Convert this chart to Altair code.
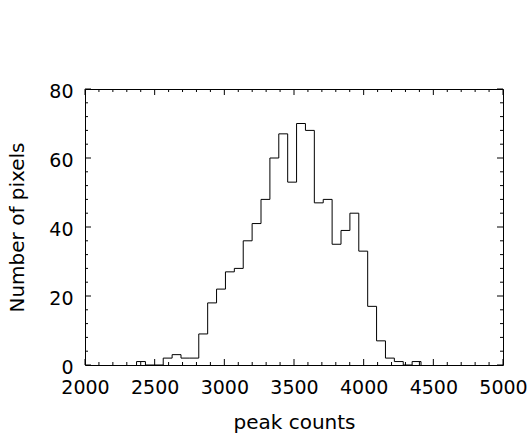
import altair as alt
import pandas as pd

# histogram
bin_start = 2370.0
bin_width = 63.8
counts = [1, 0, 0, 2, 3, 2, 2, 9, 18, 22, 27, 28, 36, 41, 48, 60, 67, 53, 70, 68,
          47, 48, 35, 39, 44, 33, 17, 7, 2, 1, 0, 1]

x_major = [2000, 2500, 3000, 3500, 4000, 4500, 5000]
x_minor = [v for v in range(2000, 5001, 100) if v % 500 != 0]
y_major = [0, 20, 40, 60, 80]
y_minor = [v for v in range(0, 81, 4) if v % 20 != 0]

W, H = 418, 276
MAJ, MIN = 6, 3
FONT = "DejaVu Sans"

edges = [bin_start + bin_width * i for i in range(len(counts) + 1)]
xs = [edges[0]] + edges
ys = [0] + counts + [0]
hist = pd.DataFrame({"x": xs, "y": ys, "o": list(range(len(xs)))})

xscale = alt.Scale(domain=[2000, 5000], nice=False, zero=False)
yscale = alt.Scale(domain=[0, 80], nice=False)

x_axis = alt.Axis(
    values=x_major, format="d", labelOverlap=False, labelFlush=False,
    ticks=False, tickSize=0, domain=False, grid=False,
    labelPadding=13, labelFontSize=19, labelFont=FONT, labelColor="black",
    title="peak counts", titleFontSize=20, titleFont=FONT, titleFontWeight="normal",
    titleColor="black", titleBaseline="alphabetic", titleY=63, titleX=W / 2)
y_axis = alt.Axis(
    values=y_major, format="d", labelOverlap=False, labelFlush=False,
    ticks=False, tickSize=0, domain=False, grid=False,
    labelPadding=12, labelFontSize=19, labelFont=FONT, labelColor="black",
    labelOffset=2,
    title="Number of pixels", titleFontSize=20, titleFont=FONT, titleFontWeight="normal",
    titleColor="black", titleAngle=270, titleBaseline="alphabetic",
    titleX=-62, titleY=H / 2, titleAlign="center")

line = alt.Chart(hist).mark_line(interpolate="step-after", color="black", strokeWidth=1).encode(
    x=alt.X("x:Q", scale=xscale, axis=x_axis, title="peak counts"),
    y=alt.Y("y:Q", scale=yscale, axis=y_axis, title="Number of pixels"),
    order="o:Q",
)

def xticks(vals, ln):
    d = pd.DataFrame({"v": vals})
    b = alt.Chart(d).mark_rule(color="black", strokeWidth=1).encode(
        x=alt.X("v:Q", scale=xscale, axis=x_axis, title="peak counts"),
        y=alt.value(H), y2=alt.value(H - ln))
    t = alt.Chart(d).mark_rule(color="black", strokeWidth=1).encode(
        x=alt.X("v:Q", scale=xscale, axis=x_axis, title="peak counts"),
        y=alt.value(0), y2=alt.value(ln))
    return [b, t]

def yticks(vals, ln):
    d = pd.DataFrame({"v": vals})
    l = alt.Chart(d).mark_rule(color="black", strokeWidth=1).encode(
        y=alt.Y("v:Q", scale=yscale, axis=y_axis, title="Number of pixels"),
        x=alt.value(0), x2=alt.value(ln))
    r = alt.Chart(d).mark_rule(color="black", strokeWidth=1).encode(
        y=alt.Y("v:Q", scale=yscale, axis=y_axis, title="Number of pixels"),
        x=alt.value(W), x2=alt.value(W - ln))
    return [l, r]

layers = [line] + xticks(x_major, MAJ) + xticks(x_minor, MIN) + yticks(y_major, MAJ) + yticks(y_minor, MIN)

chart = alt.layer(*layers).properties(
    width=W, height=H,
    autosize=alt.AutoSizeParams(type="none"),
    padding={"left": 85, "top": 89, "right": 29, "bottom": 74},
    background="white",
).configure_view(stroke="black", strokeWidth=1)

chart.save("out.html", embed_options={"renderer": "svg", "actions": False})
